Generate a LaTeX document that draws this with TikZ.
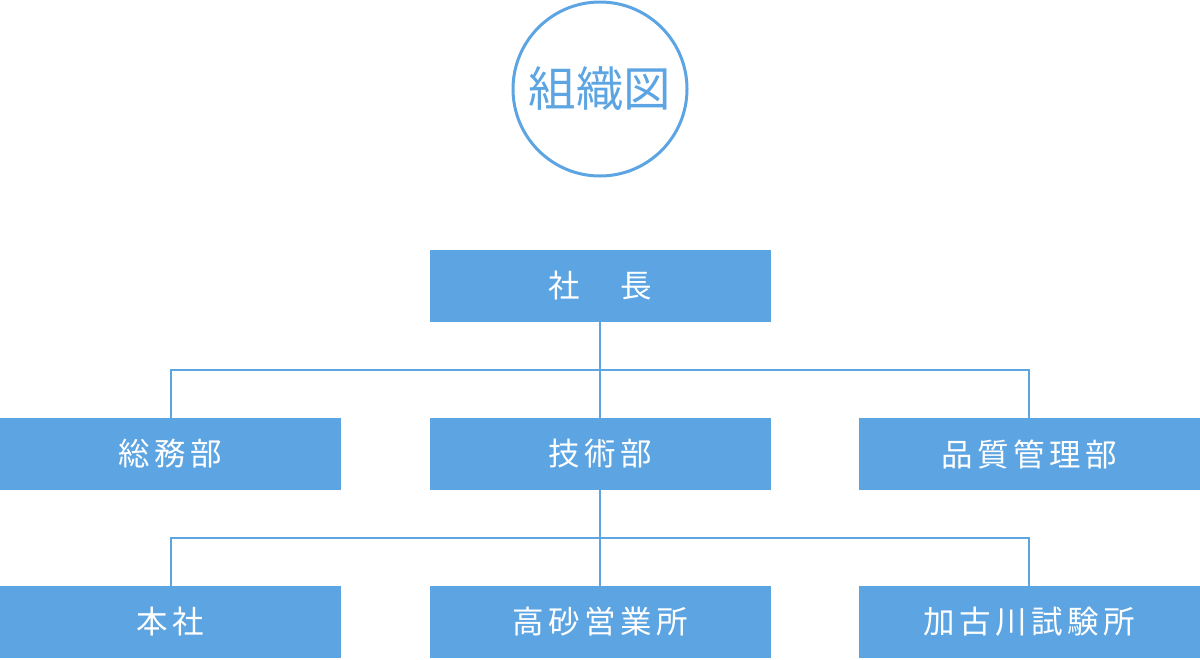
\documentclass[tikz,border=0pt]{standalone}
\usepackage{fontspec}
\newfontfamily\jp{Noto Sans CJK JP}
\newfontfamily\jpls[LetterSpace=14]{Noto Sans CJK JP}
\definecolor{blu}{HTML}{5CA5E2}
\begin{document}
\begin{tikzpicture}[x=1pt,y=-1pt,
  box/.style={fill=blu,draw=none,minimum width=341pt,minimum height=72pt,inner sep=0pt,text=white,font=\jpls\fontsize{31.5}{34}\selectfont},
  conn/.style={draw=blu,line width=2pt}]
\useasboundingbox (0,0) rectangle (1200,659);
\node[circle,draw=blu,line width=3pt,minimum size=174pt,inner sep=0pt,text=blu,font=\jp\fontsize{47.5}{50}\selectfont] (title) at (600,89) {組織図};
\node[box] (ceo) at (600,286) {\raisebox{-2pt}{社　長}};
\node[box] (soumu) at (170.5,454) {\raisebox{-2pt}{総務部}};
\node[box] (gijutsu) at (600,454) {\raisebox{-2pt}{技術部}};
\node[box] (hinshitsu) at (1029,454) {\raisebox{-2pt}{品質管理部}};
\node[box] (honsha) at (170.5,622) {\raisebox{-2pt}{本社}};
\node[box] (takasago) at (600,622) {\raisebox{-2pt}{高砂営業所}};
\node[box] (kakogawa) at (1029,622) {\raisebox{-2pt}{加古川試験所}};
\coordinate (j1) at (600,370);
\coordinate (j2) at (600,538);
\draw[conn] (ceo.south) -- (gijutsu.north);
\draw[conn] (soumu.north) |- (j1) -| (hinshitsu.north);
\draw[conn] (gijutsu.south) -- (takasago.north);
\draw[conn] (honsha.north) |- (j2) -| (kakogawa.north);
\end{tikzpicture}
\end{document}
